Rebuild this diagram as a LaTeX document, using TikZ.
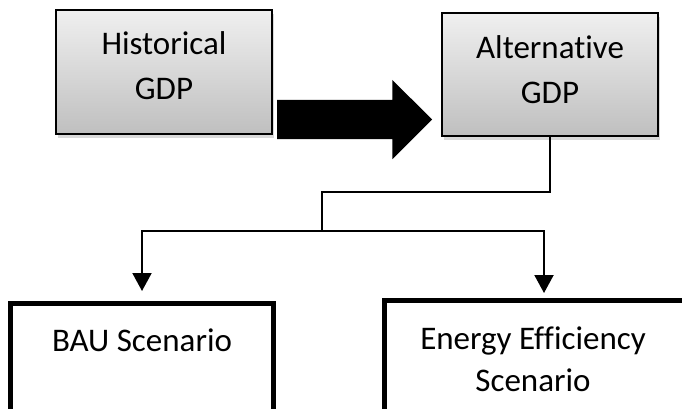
\documentclass[tikz,border=0pt]{standalone}
\usepackage{fontspec}
\setmainfont[Ligatures=NoCommon]{Carlito}
\usetikzlibrary{arrows.meta,shadows,shapes.arrows,calc}

\begin{document}
\begin{tikzpicture}[x=1pt,y=-1pt,
  gdpbox/.style={draw,line width=2pt,top color=gray!12,bottom color=gray!50,
    minimum width=216pt,minimum height=124pt,
    drop shadow={shadow xshift=2pt,shadow yshift=-4pt,opacity=0.3}},
  scenbox/.style={draw,line width=5pt,minimum height=130pt,anchor=north},
  boxtext/.style={align=center,font=\fontsize{33}{45}\selectfont},
  bigarrow/.style={single arrow,fill=black,inner xsep=0pt,inner ysep=19.5pt,
    single arrow head extend=20pt,single arrow head indent=0pt,
    minimum height=155pt,outer sep=0pt},
  link/.style={line width=2pt},
  flow/.style={line width=2pt,-{Triangle[length=18pt,width=19pt]}}]
\useasboundingbox (0,0) rectangle (682,408);
\clip (0,0) rectangle (682,408);

% GDP series
\node[gdpbox] (hist) at (164,72) {};
\node[gdpbox,minimum height=123pt] (alt) at (550,74.5) {};
\node[boxtext] (histtxt) at ($(hist.center)+(0,-6)$) {Historical\\GDP};
\node[boxtext] (alttxt) at ($(alt.center)+(0,-4.5)$) {Alternative\\GDP};
\node[bigarrow,anchor=tail] (push) at ([xshift=4pt,yshift=-47.5pt]hist.east) {};

% Scenarios
\node[scenbox,minimum width=263pt] (bau) at (142,301) {};
\node[scenbox,minimum width=319pt] (eff) at (544,298) {};
\node[boxtext] (bautxt) at ($(bau.north)+(0,39)$) {BAU Scenario};
\node[boxtext,font=\fontsize{33}{42}\selectfont] (efftxt) at ($(eff.north)+(-11,61)$) {Energy Efficiency\\Scenario};

% Split connector
\coordinate (jog) at (322,192);
\coordinate (split) at (322,231);
\draw[link] (alt.south) |- (jog) -- (split);
\draw[flow,shorten >=10pt] (split) -| (bau.north);
\draw[flow,shorten >=5pt] (split) -| (eff.north);
\end{tikzpicture}
\end{document}
